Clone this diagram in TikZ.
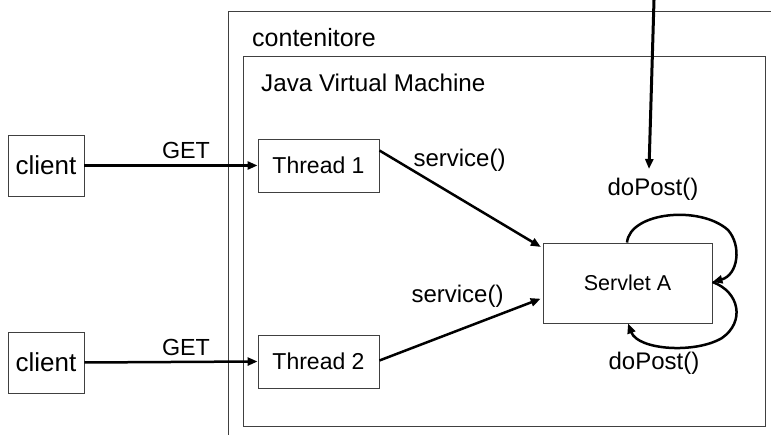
\documentclass[tikz,border=0pt]{standalone}
\usepackage{fontspec}
\setmainfont{Liberation Sans}
\usetikzlibrary{arrows.meta,calc}
\begin{document}
\begin{tikzpicture}[x=1pt,y=-1pt,
  box/.style={draw=black!75,line width=0.9pt,rectangle,inner sep=0pt,anchor=center},
  lbl/.style={inner sep=0pt,anchor=base,font=\fontsize{24}{24}\selectfont},
  conn/.style={line width=2.5pt,-{Triangle[length=10pt,width=8pt]}},
]
\useasboundingbox (0,0) rectangle (771,435);
% containers
\draw[black!75,line width=0.9pt] (228,435) -- (228,11) -- (771,11);
\node[box,minimum width=522pt,minimum height=370pt] (jvm) at (504.5,241) {};
\node[lbl,anchor=base west,font=\fontsize{25}{25}\selectfont] (cont) at (252,47) {contenitore};
\node[lbl,anchor=base west,font=\fontsize{24.2}{24}\selectfont] (jvml) at (261,92) {Java Virtual Machine};
% boxes
\node[box,minimum width=76pt,minimum height=61pt,font=\fontsize{26}{26}\selectfont] (c1) at (46,165.5) {client};
\node[box,minimum width=76pt,minimum height=61pt,font=\fontsize{26}{26}\selectfont] (c2) at (46,362.5) {client};
\node[box,minimum width=121pt,minimum height=53pt,font=\fontsize{23}{23}\selectfont] (t1) at (318.5,165.5) {Thread 1};
\node[box,minimum width=121pt,minimum height=53pt,font=\fontsize{23}{23}\selectfont] (t2) at (318.5,361.5) {Thread 2};
\node[box,minimum width=169pt,minimum height=80pt,font=\fontsize{21.5}{21.5}\selectfont] (s) at (627.5,283) {Servlet A};
% labels
\node[lbl,font=\fontsize{23.3}{23}\selectfont] (g1) at (186,159) {GET};
\node[lbl,font=\fontsize{23.3}{23}\selectfont] (g2) at (186,356) {GET};
\node[lbl] (sv1) at (459.5,167) {service()};
\node[lbl] (sv2) at (457.5,303) {service()};
\node[lbl] (dp1) at (653,196) {doPost()};
\node[lbl] (dp2) at (654,370) {doPost()};
% connectors
\draw[conn] (c1.east) -- (t1.west);
\draw[conn] (c2.east) -- (t2.west);
\draw[conn,shorten >=2pt] ([yshift=15pt]t1.east) -- ([yshift=35pt]s.west);
\draw[conn,shorten >=2pt] ([yshift=1pt]t2.east) -- ([yshift=-15pt]s.west);
\coordinate (src) at (654,0);
\coordinate (dpin) at (649,169);
\draw[conn,line width=3pt] (src) -- (dpin);
% self loops
\draw[conn] ([xshift=-0.5pt]s.north) .. controls (630,212) and (700,205) .. (728,230)
  .. controls (742,246) and (738,275) .. ([yshift=1pt]s.east);
\draw[conn] ([yshift=1pt]s.east) .. controls (740,292) and (745,322) .. (722,338)
  .. controls (695,354) and (638,350) .. ([xshift=0.5pt]s.south);
\end{tikzpicture}
\end{document}
